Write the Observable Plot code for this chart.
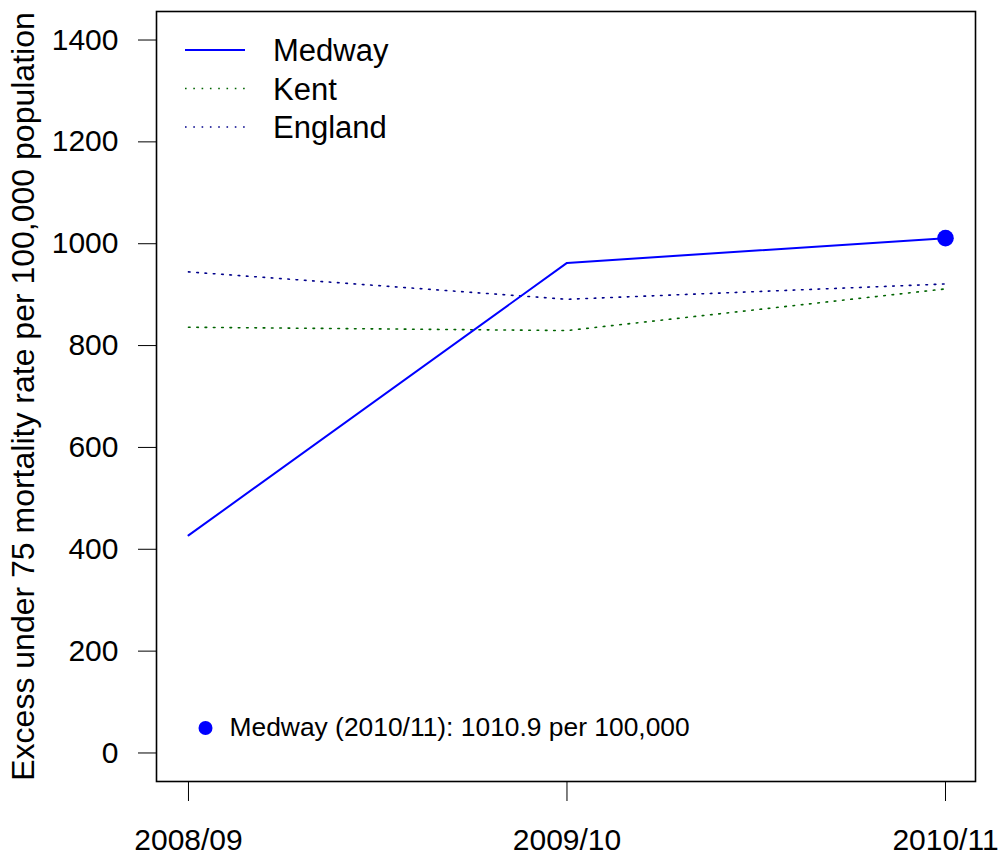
<!DOCTYPE html>
<html>
<head>
<meta charset="utf-8">
<script src="https://cdn.jsdelivr.net/npm/d3@7"></script>
<script src="https://cdn.jsdelivr.net/npm/@observablehq/plot@0.6"></script>
<style>
  html, body { margin: 0; padding: 0; background: white; }
  #chart { width: 1004px; height: 859px; }
</style>
</head>
<body>
<div id="chart"></div>
<script>
// ---- data ----
const years = ["2008/09", "2009/10", "2010/11"];
const medway = [427.2, 962.3, 1010.9];
const kent = [836.0, 829.5, 911.3];
const england = [944.7, 890.9, 921.0];
const yTicks = [0, 200, 400, 600, 800, 1000, 1200, 1400];
const seriesNames = ["Medway", "Kent", "England"];
const seriesColors = ["#0000FF", "#006400", "#00008B"];
const yLabel = "Excess under 75 mortality rate per 100,000 population";
const annotation = "Medway (2010/11): 1010.9 per 100,000";

const rows = [];
[medway, kent, england].forEach((vals, s) => {
  vals.forEach((v, i) => rows.push({series: seriesNames[s], xi: i + 1, value: v}));
});
const medRows = rows.filter(d => d.series === "Medway");
const kentRows = rows.filter(d => d.series === "Kent");
const engRows = rows.filter(d => d.series === "England");
const lastMed = medRows[medRows.length - 1];

const W = 1004, H = 859;
const FONT = "Liberation Sans, Arial, Helvetica, sans-serif";
const DOTS = "1.6 6.7";

const chart = Plot.plot({
  width: W,
  height: H,
  marginLeft: 156,
  marginRight: 29,
  marginTop: 11,
  marginBottom: 78,
  style: {fontFamily: FONT, fontSize: "30px", background: "white", color: "black"},
  x: {type: "linear", domain: [0.9155, 3.0793]},
  y: {domain: [-56, 1456]},
  marks: [
    Plot.frame({stroke: "black", strokeWidth: 1.6}),
    Plot.axisY({ticks: yTicks, tickSize: 18, tickPadding: 20, fontSize: 30, label: null, tickFormat: d => String(d)}),
    Plot.axisX({ticks: [1, 2, 3], tickSize: 20, tickPadding: 27, fontSize: 30, label: null, tickFormat: d => years[d - 1]}),
    Plot.text([yLabel], {frameAnchor: "left", text: d => d, rotate: -90, dx: -133.2, textAnchor: "middle", lineAnchor: "middle", fontSize: 32}),
    Plot.line(kentRows, {x: "xi", y: "value", stroke: seriesColors[1], strokeWidth: 1.6, strokeDasharray: DOTS}),
    Plot.line(engRows, {x: "xi", y: "value", stroke: seriesColors[2], strokeWidth: 1.6, strokeDasharray: DOTS}),
    Plot.line(medRows, {x: "xi", y: "value", stroke: seriesColors[0], strokeWidth: 2}),
    Plot.dot([lastMed], {x: "xi", y: "value", r: 8.3, fill: seriesColors[0], stroke: "none"}),
    // annotation at bottom-left of frame
    Plot.dot([annotation], {frameAnchor: "bottom-left", dx: 49, dy: -53.5, r: 7, fill: seriesColors[0], stroke: "none"}),
    Plot.text([annotation], {frameAnchor: "bottom-left", text: d => d, dx: 73, dy: -54, textAnchor: "start", lineAnchor: "middle", fontSize: 26.4, fill: "black"})
  ]
});

document.getElementById("chart").appendChild(chart);

// ---- legend (inside plot, top-left) ----
const svg = d3.select(chart);
const leg = svg.append("g").attr("font-family", FONT).attr("font-size", 31).attr("text-anchor", "start");
const legRows = [
  {name: seriesNames[0], color: seriesColors[0], dash: null, w: 2},
  {name: seriesNames[1], color: seriesColors[1], dash: DOTS, w: 1.6},
  {name: seriesNames[2], color: seriesColors[2], dash: DOTS, w: 1.6}
];
legRows.forEach((r, i) => {
  const y = 50 + i * 38.5;
  leg.append("line")
    .attr("x1", 185).attr("x2", 245).attr("y1", y).attr("y2", y)
    .attr("stroke", r.color).attr("stroke-width", r.w)
    .attr("stroke-dasharray", r.dash);
  leg.append("text")
    .attr("x", 273).attr("y", y).attr("dy", "0.36em")
    .attr("text-anchor", "start")
    .attr("fill", "black").text(r.name);
});
</script>
</body>
</html>
